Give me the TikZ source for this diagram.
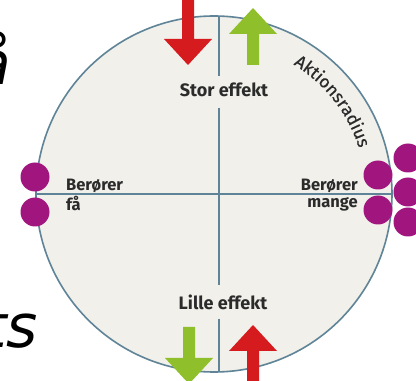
\documentclass[tikz,border=0pt]{standalone}
\usepackage{fontspec}
\setmainfont{Fira Sans}
\newfontfamily\slidefont{DejaVu Sans}
\newfontfamily\arcfont[FakeBold=0.6]{Fira Sans}
\usetikzlibrary{positioning,calc,decorations.text}
\definecolor{ringline}{HTML}{5F8497}
\definecolor{ringfill}{HTML}{F1F0EA}
\definecolor{dotpurple}{HTML}{A0167E}
\definecolor{arrred}{HTML}{D61B1F}
\definecolor{arrgreen}{HTML}{8FBF2B}
\definecolor{labeltext}{HTML}{2B2B2B}
\tikzset{AXIS/.style={ringline, line width=1.6pt}}
\tikzset{DOT/.style={circle, fill=dotpurple, inner sep=0pt, minimum size=29pt}}
\tikzset{LABEL/.style={text=labeltext, font=\bfseries\fontsize{18}{20}\selectfont, inner sep=0pt}}
\tikzset{SIDELABEL/.style={LABEL, font=\bfseries\fontsize{16.5}{18}\selectfont}}
\tikzset{pics/EFFARROW/.style={code={
    \fill (-6,0) -- (-6,#1) -- (-24,#1) -- (0,#1+26) -- (24,#1) -- (6,#1) -- (6,0) -- cycle;
}}}

\begin{document}
\begin{tikzpicture}[x=1pt, y=1pt]
    \useasboundingbox (0,0) rectangle (416,381);
    \clip (0,0) rectangle (416,381);
    \fill[white] (0,0) rectangle (416,381);

    % slide text cut off at the left
    \node[anchor=base east, inner sep=0pt, font=\slidefont\itshape\fontsize{60}{60}\selectfont] (n_cut_top) at (11,296) {å};
    \node[anchor=base east, inner sep=0pt, font=\slidefont\itshape\fontsize{60}{60}\selectfont] (n_cut_bot) at (38,33) {ts};

    \node[circle, draw=ringline, fill=ringfill, line width=1.6pt, minimum size=356pt, inner sep=0pt] (n_ring) at (214,187) {};

    \node[LABEL, anchor=base] (n_stor) at (224,284) {Stor effekt};
    \node[LABEL, anchor=base] (n_lille) at (223,71) {Lille effekt};
    \node[SIDELABEL, anchor=base west] (n_few_a) at (66,190) {Berører};
    \node[SIDELABEL, anchor=base west] (n_few_b) at (66,170) {få};
    \node[SIDELABEL, anchor=base east] (n_many_a) at (358,190) {Berører};
    \node[SIDELABEL, anchor=base east] (n_many_b) at (358,173) {mange};

    \coordinate (v_top) at (219,364);
    \coordinate (v_bot) at (219,9);
    \draw[AXIS] (v_top) -- ($(n_stor.north -| v_top)+(0,7)$);
    \draw[AXIS] ($(n_stor.south -| v_top)+(0,-10)$) -- ($(n_lille.north -| v_top)+(0,10)$);
    \draw[AXIS] ($(n_lille.south -| v_top)+(0,-8)$) -- (v_bot);
    \draw[AXIS] (n_ring.west) -- (n_ring.east);

    \path[decorate, decoration={text along path, text align=center,
        text={|\arcfont\fontsize{17.5}{19}\selectfont\color{labeltext}|Aktionsradius}}]
        ($(n_ring.center)+(63:152)$) arc[start angle=63, end angle=13, radius=152];

    % arrows
    \pic[fill=arrred, rotate=180] at (188,386) {EFFARROW=44};
    \pic[fill=arrgreen] at (253,316) {EFFARROW=31};
    \pic[fill=arrgreen, rotate=180] at (189,54) {EFFARROW=31};
    \pic[fill=arrred] at (253,-5) {EFFARROW=35};

    % dots
    \node[DOT] (n_dot_l1) at (35,204) {};
    \node[DOT] (n_dot_l2) at (35,169) {};
    \node[DOT] (n_dot_r1) at (378,206) {};
    \node[DOT] (n_dot_r2) at (378,171) {};
    \node[DOT] (n_dot_r3) at (408,223) {};
    \node[DOT] (n_dot_r4) at (408,189) {};
    \node[DOT] (n_dot_r5) at (408,159) {};
\end{tikzpicture}
\end{document}
